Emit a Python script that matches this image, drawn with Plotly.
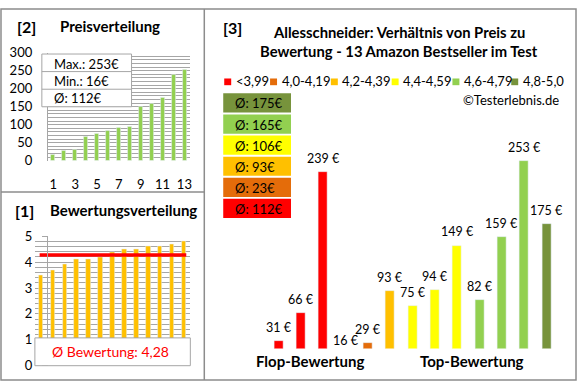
import plotly.graph_objects as go

# ---------------- data ----------------
ratings = [3.5, 3.7, 3.9, 4.1, 4.1, 4.2, 4.4, 4.5, 4.5, 4.6, 4.6, 4.7, 4.8]
prices = [31, 66, 239, 16, 29, 93, 75, 94, 149, 82, 159, 253, 175]
group_labels = ["<3,99", "4,0-4,19", "4,2-4,39", "4,4-4,59", "4,6-4,79", "4,8-5,0"]
group_thresholds = [4.0, 4.2, 4.4, 4.6, 4.8]
group_colors = ["#FF0000", "#E46C0A", "#FFC000", "#FFFF00", "#92D050", "#77933C"]
price_ticks = [1, 3, 5, 7, 9, 11, 13]

# ---------------- derived ----------------
n = len(prices)
idx = list(range(1, n + 1))
prices_sorted = sorted(prices)
def group_of(r):
    g = 0
    for t in group_thresholds:
        if r >= t:
            g += 1
    return g
def rnd(v):
    return int(v + 0.5)
groups = [group_of(r) for r in ratings]
bar_colors = [group_colors[g] for g in groups]
mean_price = sum(prices) / n
mean_rating = sum(ratings) / n
group_means = []
for g in range(len(group_labels)):
    vals = [p for p, gg in zip(prices, groups) if gg == g]
    group_means.append(sum(vals) / len(vals) if vals else 0)

# ---------------- layout helpers ----------------
W, H = 580, 390
FONT = "Lato"
GRID = "#A6A6A6"
BORDER = "#8C8C8C"
Y3_MIN = 22.3          # lower end of the panel-3 value axis
Y3_PXPER = 0.848       # pixels per euro in panel 3
def px(x): return x / W
def py(y): return 1 - y / H

fig = go.Figure()

# Panel [2] Preisverteilung
fig.add_trace(go.Bar(x=idx, y=prices_sorted, marker_color="#92D050", width=0.37,
                     xaxis="x", yaxis="y", showlegend=False))
# Panel [1] Bewertungsverteilung
fig.add_trace(go.Bar(x=idx, y=ratings, marker_color="#FFC000", width=0.38,
                     xaxis="x2", yaxis="y2", showlegend=False))
fig.add_trace(go.Scatter(x=[idx[0] - 0.1, idx[-1] + 0.2], y=[mean_rating, mean_rating],
                         mode="lines", line=dict(color="#FF0000", width=3.5),
                         xaxis="x2", yaxis="y2", showlegend=False))
# Panel [3]
fig.add_trace(go.Bar(x=idx, y=prices, marker_color=bar_colors, width=0.4,
                     xaxis="x3", yaxis="y3", showlegend=False))

axfont = dict(family=FONT, size=13, color="#000000")
fig.update_layout(
    width=W, height=H, margin=dict(l=0, r=0, t=0, b=0),
    paper_bgcolor="white", plot_bgcolor="white",
    font=dict(family=FONT, color="#000000"),
    bargap=0,
    xaxis=dict(domain=[px(48), px(190.5)], range=[0.5, 13.5], tickvals=price_ticks,
               showgrid=False, zeroline=False, showline=False, ticks="",
               tickfont=axfont, ticklabelstandoff=14),
    yaxis=dict(domain=[py(159.3), py(46.7)], range=[0, 300], dtick=50,
               showgrid=True, gridcolor=GRID, gridwidth=1,
               minor=dict(dtick=10, showgrid=True, gridcolor=GRID, gridwidth=1),
               zeroline=False, showline=True, linecolor=GRID, ticks="",
               tickfont=axfont, ticklabelstandoff=12),
    xaxis2=dict(domain=[px(35), px(190.5)], range=[0.5, 13.5], showticklabels=False,
                showgrid=False, zeroline=False, showline=False, ticks=""),
    yaxis2=dict(domain=[py(373), py(238)], range=[0, 5], dtick=1,
                showgrid=True, gridcolor=GRID, gridwidth=1,
                minor=dict(dtick=0.2, showgrid=True, gridcolor=GRID, gridwidth=1),
                zeroline=False, showline=True, linecolor=GRID, ticks="outside",
                ticklen=5, tickcolor=GRID, tickfont=axfont, ticklabelstandoff=7),
    xaxis3=dict(domain=[px(268.3), px(559.7)], range=[0.5, 13.5], visible=False),
    yaxis3=dict(domain=[py(355), py(100)], range=[Y3_MIN, Y3_MIN + 255 / Y3_PXPER],
                visible=False),
)

shapes = []
annotations = []
def rect(x0, y0, x1, y1, fill="white", line=BORDER, lw=1):
    shapes.append(dict(type="rect", xref="paper", yref="paper",
                       x0=px(x0), x1=px(x1), y0=py(y1), y1=py(y0),
                       fillcolor=fill, line=dict(color=line, width=lw), layer="above"))
def hline(x0, x1, y, color=BORDER, lw=1.5):
    shapes.append(dict(type="line", xref="paper", yref="paper", x0=px(x0), x1=px(x1),
                       y0=py(y), y1=py(y), line=dict(color=color, width=lw), layer="above"))
def vline(x, y0, y1, color=BORDER, lw=1.5):
    shapes.append(dict(type="line", xref="paper", yref="paper", x0=px(x), x1=px(x),
                       y0=py(y0), y1=py(y1), line=dict(color=color, width=lw), layer="above"))
def text(x, y, s, size=13, bold=False, color="#000000", xanchor="center"):
    annotations.append(dict(xref="paper", yref="paper", x=px(x), y=py(y), text=s,
                            showarrow=False, xanchor=xanchor, yanchor="middle",
                            font=dict(family=FONT, size=size, color=color,
                                      weight="bold" if bold else "normal")))

# Outer frame and dividers
shapes.append(dict(type="rect", xref="paper", yref="paper", x0=px(1), x1=px(578),
                   y0=py(388), y1=py(1), line=dict(color=BORDER, width=1.5),
                   fillcolor="rgba(0,0,0,0)", layer="above"))
vline(205, 1, 388)
hline(1, 205, 192)

# Panel [2] titles and info box
text(27, 19, "[2]", size=16, bold=True)
text(58, 19, "Preisverteilung", size=15, bold=True, xanchor="left")
rect(42, 48, 132, 103, line=GRID)
hline(42, 132, 66.3, color=GRID, lw=1)
hline(42, 132, 84.7, color=GRID, lw=1)
text(52, 58, f"Max.: {max(prices)}€", size=13, xanchor="left")
text(52, 76.5, f"Min.: {min(prices)}€", size=13, xanchor="left")
text(52, 94, f"Ø: {rnd(mean_price)}€", size=13, xanchor="left")

# Panel [1] titles and info box
text(25, 211, "[1]", size=16, bold=True)
text(48, 211, "Bewertungsverteilung", size=15, bold=True, xanchor="left")
rect(35, 344, 191, 373, line=GRID)
text(111, 358.5, "Ø Bewertung: " + f"{mean_rating:.2f}".replace(".", ","), size=14,
     color="#FF0000")

# Panel [3] titles
text(233, 20, "[3]", size=16, bold=True)
text(400, 25, "Allesschneider: Verhältnis von Preis zu", size=14.8, bold=True)
text(400, 45, "Bewertung - 13 Amazon Bestseller im Test", size=14.8, bold=True)

# Legend
legend_x = [225, 271, 332, 393, 454, 513]
for lx, lab, col in zip(legend_x, group_labels, group_colors):
    shapes.append(dict(type="rect", xref="paper", yref="paper", x0=px(lx), x1=px(lx + 7),
                       y0=py(80.5), y1=py(73.5), fillcolor=col, line=dict(width=0),
                       layer="above"))
    text(lx + 9.5, 76.5, lab, size=13, xanchor="left")
text(563, 96, "©Testerlebnis.de", size=13, xanchor="right")

# Group average boxes (top: best group)
box_top = 89
for k, g in enumerate(reversed(range(len(group_labels)))):
    y0 = box_top + 22 * k
    rect(224, y0, 292, y0 + 20, fill=group_colors[g], line=group_colors[g], lw=0)
    text(234, y0 + 10.5, f"Ø: {rnd(group_means[g])}€", size=13, xanchor="left")

# Value labels above panel-3 bars (values below the axis floor keep their offset)
for i, p in zip(idx, prices):
    y_anchor = max(p, Y3_MIN + 0.05)
    shift = 4 - (y_anchor - p) * Y3_PXPER
    annotations.append(dict(xref="x3", yref="y3", x=i, y=y_anchor, text=f"{p} €",
                            showarrow=False, yanchor="bottom", yshift=shift,
                            font=dict(family=FONT, size=12.5, color="#000000")))

text(312, 368, "Flop-Bewertung", size=15, bold=True)
text(474, 368, "Top-Bewertung", size=15, bold=True)

fig.update_layout(shapes=shapes, annotations=annotations)
fig.write_html("out.html", config={"displayModeBar": False},
               post_script="document.body.style.margin='0px';document.body.style.overflow='hidden';")
